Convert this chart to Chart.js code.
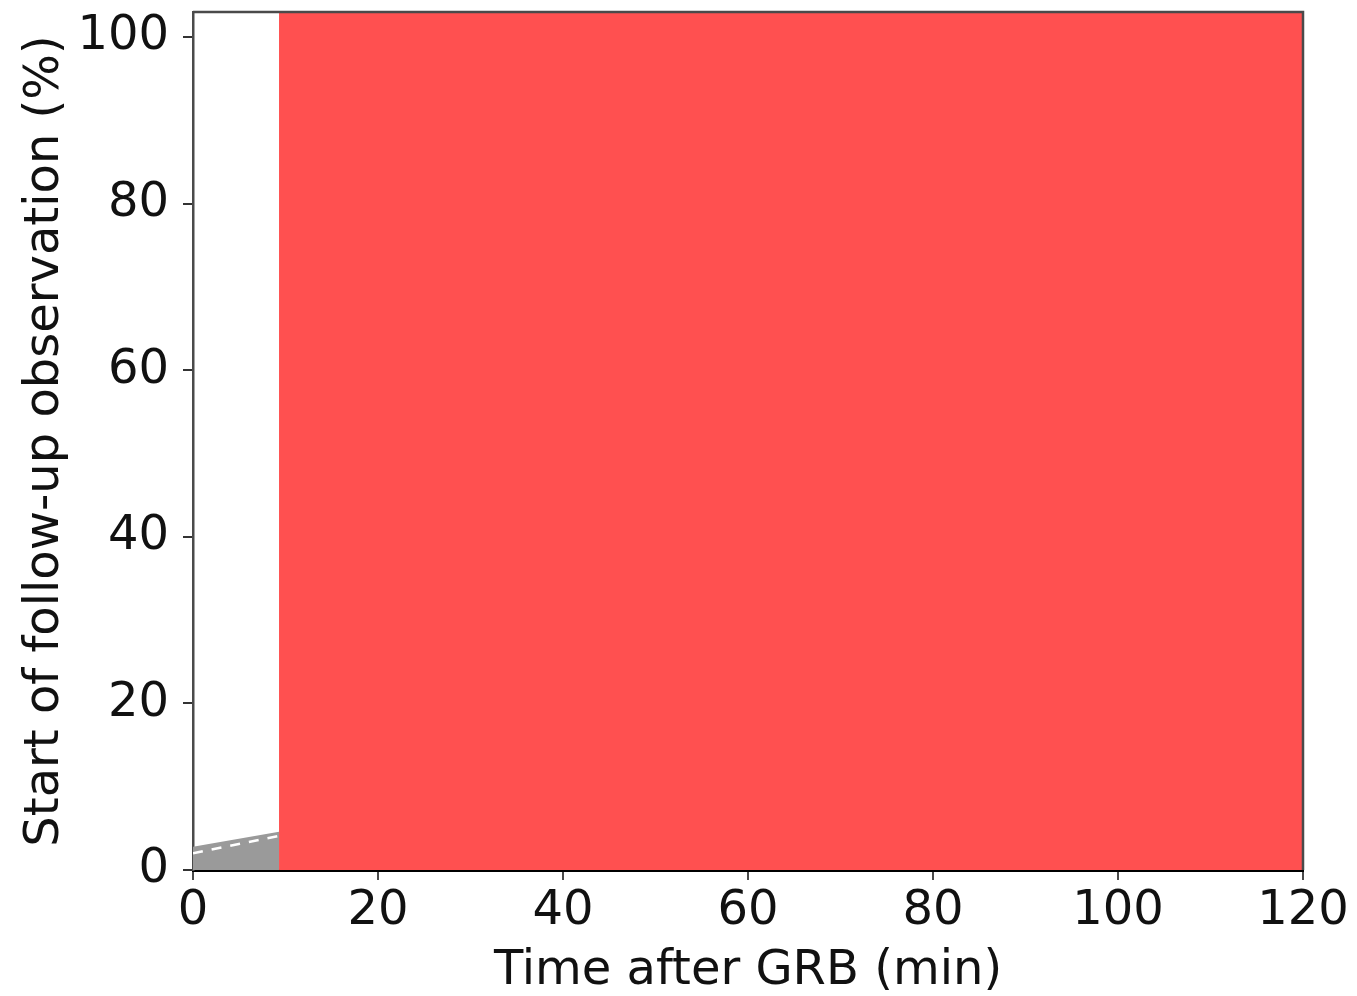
<!DOCTYPE html>
<html>
<head>
<meta charset="utf-8">
<script src="https://cdn.jsdelivr.net/npm/chart.js@4"></script>
<style>
  html, body { margin: 0; padding: 0; background: #fff; }
  #wrap { width: 1357px; height: 996px; }
</style>
</head>
<body>
<div id="wrap"><canvas id="chart"></canvas></div>
<script>
// data
const xTicks = [0, 20, 40, 60, 80, 100, 120];
const yTicks = [0, 20, 40, 60, 80, 100];
const xMax = 120;
const yMax = 103;

// gray band near the bottom (0 to ~9 min)
const grayX = [0, 9.3];
const grayY = [2.8, 4.6];
// white dashed line inside the gray band
const dashX = [0, 9.3];
const dashY = [2.0, 4.1];
// red block covering the rest of the plot
const redX = [9.3, 120];
const redY = [103, 103];

function toPoints(xs, ys){
    return xs.map((x, i) => ({x: x, y: ys[i]}));
}

const framePlugin = {
    id: "frame",
    afterDatasetsDraw(chart){
        const {ctx, chartArea} = chart;
        ctx.save();
        ctx.strokeStyle = "#4a4a4a";
        ctx.lineWidth = 2.5;
        ctx.beginPath();
        ctx.moveTo(chartArea.left, chartArea.top);
        ctx.lineTo(chartArea.right, chartArea.top);
        ctx.lineTo(chartArea.right, chartArea.bottom);
        ctx.stroke();
        ctx.restore();
    }
};

const font = {family: "DejaVu Sans", size: 48};

new Chart(document.getElementById("chart"), {
    type: "line",
    data: {
        datasets: [
            {
                label: "dashed",
                data: toPoints(dashX, dashY),
                borderColor: "#ffffff",
                borderWidth: 2.5,
                borderDash: [10, 9],
                pointRadius: 0,
                fill: false,
                order: 1
            },
            {
                label: "gray",
                data: toPoints(grayX, grayY),
                borderColor: "#9a9a9a",
                backgroundColor: "#9a9a9a",
                borderWidth: 0,
                pointRadius: 0,
                fill: "origin",
                order: 2
            },
            {
                label: "red",
                data: toPoints(redX, redY),
                borderColor: "#ff5050",
                backgroundColor: "#ff5050",
                borderWidth: 0,
                pointRadius: 0,
                fill: "origin",
                order: 3
            }
        ]
    },
    options: {
        responsive: true,
        maintainAspectRatio: false,
        animation: false,
        layout: { padding: { left: 0, right: 54, top: 12, bottom: 0 } },
        plugins: {
            legend: { display: false },
            tooltip: { enabled: false }
        },
        scales: {
            x: {
                type: "linear",
                min: 0,
                max: xMax,
                afterBuildTicks: scale => { scale.ticks = xTicks.map(v => ({value: v})); },
                afterFit: scale => { scale.height = 126; scale.paddingLeft = 0; scale.paddingRight = 0; },
                ticks: { color: "#111", font: font, padding: 3, maxRotation: 0 },
                grid: { drawOnChartArea: false, drawTicks: true, tickLength: 10, color: "#4a4a4a", lineWidth: 2 },
                border: { color: "#000", width: 3 },
                title: { display: true, text: "Time after GRB (min)", color: "#111", font: font, padding: { top: 0, bottom: -4 } }
            },
            y: {
                type: "linear",
                min: 0,
                max: yMax,
                afterBuildTicks: scale => { scale.ticks = yTicks.map(v => ({value: v})); },
                afterFit: scale => { scale.width = 193; scale.paddingTop = 0; scale.paddingBottom = 0; },
                ticks: { color: "#111", font: font, padding: 14 },
                grid: { drawOnChartArea: false, drawTicks: true, tickLength: 10, color: "#333", lineWidth: 2 },
                border: { color: "#4a4a4a", width: 2.5 },
                title: { display: true, text: "Start of follow-up observation (%)", color: "#111", font: font, padding: { top: 17, bottom: 0 } }
            }
        }
    },
    plugins: [framePlugin]
});
</script>
</body>
</html>
